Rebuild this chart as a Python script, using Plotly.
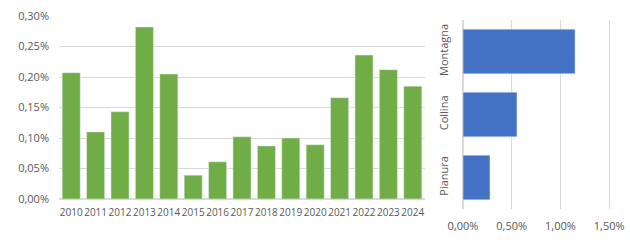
import plotly.graph_objects as go

years = [str(y) for y in range(2010, 2025)]
year_values = [0.207, 0.110, 0.143, 0.282, 0.205, 0.039, 0.061, 0.102, 0.087, 0.100,
               0.089, 0.166, 0.236, 0.212, 0.185]
zones = ["Pianura", "Collina", "Montagna"]
zone_values = [0.277, 0.554, 1.15]

W, H = 630, 240
FONT = "Open Sans"
TXT = "#595959"
GRID = "#D9D9D9"

fig = go.Figure()
fig.add_trace(go.Bar(x=years, y=year_values, marker_color="#70AD47", xaxis="x", yaxis="y",
                     hoverinfo="skip"))
fig.add_trace(go.Bar(x=zone_values, y=zones, orientation="h", marker_color="#4472C4",
                     xaxis="x2", yaxis="y2", hoverinfo="skip", width=0.71))

def fx(px):
    return px / W

def fy(py):
    return 1 - py / H

fig.update_layout(
    width=W, height=H, margin=dict(l=0, r=0, t=0, b=0),
    paper_bgcolor="white", plot_bgcolor="white",
    showlegend=False, separators=",.",
    font=dict(family=FONT, size=10, color=TXT),
    bargap=0.26,
    xaxis=dict(domain=[fx(59), fx(425)], type="category", showgrid=False, showline=False,
               ticks="", tickangle=0, tickfont=dict(size=10, color=TXT),
               ticklabelstandoff=6, anchor="y", automargin=False),
    yaxis=dict(domain=[fy(199), fy(16)], range=[0, 0.30], dtick=0.05, ticksuffix="%",
               tickformat=".2f", showgrid=True, gridcolor=GRID, gridwidth=1,
               zeroline=True, zerolinecolor=GRID, showline=False, ticks="",
               tickfont=dict(size=11, color=TXT), anchor="x", automargin=False,
               ticklabelstandoff=9),
    xaxis2=dict(domain=[fx(463), fx(615)], range=[0, 1.56], dtick=0.5, ticksuffix="%",
                tickformat=".2f", showgrid=True, gridcolor=GRID, zeroline=True,
                zerolinecolor=GRID, showline=False, ticks="", tickangle=0,
                tickfont=dict(size=11, color=TXT), anchor="y2", ticklabelstandoff=9,
                automargin=False),
    yaxis2=dict(domain=[fy(209), fy(20)], type="category", showgrid=False, showline=False,
                ticks="", tickangle=-90, tickfont=dict(size=11, color=TXT), anchor="x2",
                ticklabelstandoff=12, automargin=False),
)

fig.write_html("out.html")
